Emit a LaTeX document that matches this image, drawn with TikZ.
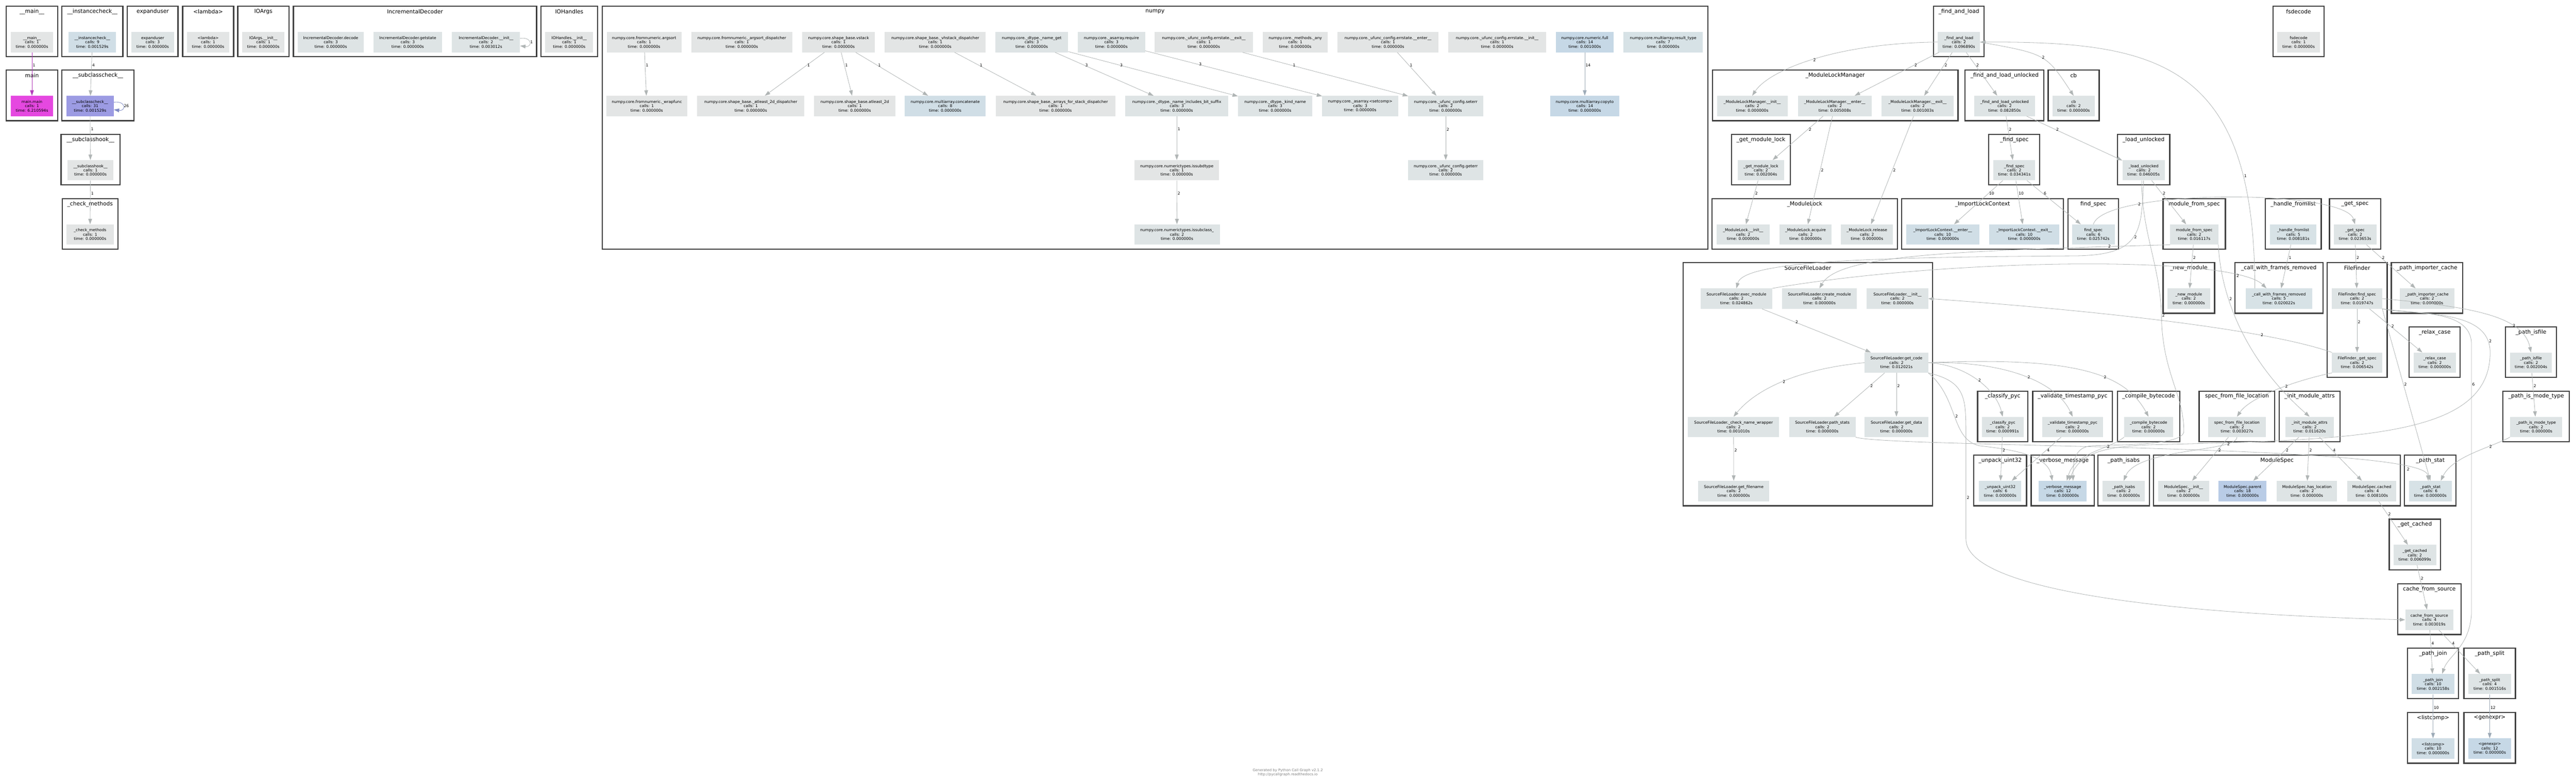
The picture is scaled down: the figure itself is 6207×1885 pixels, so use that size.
\documentclass[tikz,border=0pt]{standalone}
\usepackage{fontspec}
\setmainfont{DejaVu Sans}
\usetikzlibrary{arrows.meta}
\definecolor{cgray}{HTML}{E3E5E5}
\definecolor{cpale}{HTML}{DEE4E5}
\definecolor{clite}{HTML}{D7E2E6}
\definecolor{cblue}{HTML}{D0DEE6}
\definecolor{cdeep}{HTML}{C6D8E6}
\definecolor{cmid}{HTML}{B9CCE6}
\definecolor{cviolet}{HTML}{9C9BE3}
\definecolor{cmagenta}{HTML}{E548E0}
\definecolor{egray}{HTML}{B0B5B5}
\definecolor{eblue}{HTML}{9DAAB7}
\definecolor{eviolet}{HTML}{7F8AC4}
\definecolor{emag}{HTML}{B23DBA}
\newcommand{\fnfont}{\fontsize{9.4}{10.5}\selectfont}
\newcommand{\grfont}{\fontsize{13.2}{15}\selectfont}
\newcommand{\footfont}{\fontsize{8.6}{10}\selectfont}
\newcommand{\ct}[2]{\\calls: #1\\time: #2s}
\newcommand{\callgroup}[6]{%
  \draw[clusterbox] (#2,#4-86.5) rectangle (#3,#5+35.5);
  \node[gtitle] (#1) at ({(#2+#3)/2},#4-73.5) {#6};}
\newcommand{\callsingle}[8]{%
  \callgroup{#1-t}{#2}{#3}{#4}{#4}{#6}
  \node[fn=#7, minimum width=#5] (#1) at ({(#2+#3)/2},#4) {#8};}

\begin{document}
\begin{tikzpicture}[x=1pt, y=-1pt,
	fn/.style={rectangle, fill=#1, align=center, font=\fnfont, minimum height=49, inner sep=1pt},
	clusterbox/.style={draw=black!75, line width=2.8pt},
	gtitle/.style={font=\grfont, inner sep=0pt},
	call/.style={draw=egray, line width=1pt, -{Triangle[length=13pt,width=9pt]}},
	cnt/.style={font=\fnfont, inner sep=1.5pt, anchor=west, pos=.3},
	foot/.style={font=\footfont, text=black!50, align=center}]
	\path[use as bounding box, fill=white] (0,0) rectangle (6207,1885);

	\callsingle{mainfn}{15}{139}{101.5}{102}{\_\_main\_\_}{cgray}{\_\_main\_\_\ct{1}{0.000000}}
	\callsingle{inst}{149}{296}{101.5}{114}{\_\_instancecheck\_\_}{cblue}{\_\_instancecheck\_\_\ct{9}{0.001529}}
	\callsingle{expu}{307}{429}{101.5}{102}{expanduser}{cpale}{expanduser\ct{3}{0.000000}}
	\callsingle{lamb}{440}{563}{101.5}{102}{<lambda>}{cgray}{<lambda>\ct{1}{0.000000}}
	\callsingle{ioargs}{573}{696}{101.5}{102}{IOArgs}{cgray}{IOArgs.\_\_init\_\_\ct{1}{0.000000}}
	\callgroup{incdec}{707}{1293}{101.5}{101.5}{IncrementalDecoder}
	\node[fn=cpale, minimum width=160] (iddec) at (797,101.5) {IncrementalDecoder.decode\ct{3}{0.000000}};
	\node[fn=cpale, minimum width=165] (idget) at (982.5,101.5) {IncrementalDecoder.getstate\ct{3}{0.000000}};
	\node[fn=cpale, minimum width=164] (idinit) at (1171,101.5) {IncrementalDecoder.\_\_init\_\_\ct{2}{0.003012}};
	\callsingle{iohand}{1303}{1440}{101.5}{115}{IOHandles}{cgray}{IOHandles.\_\_init\_\_\ct{1}{0.000000}}
	\callsingle{mainmain}{15}{139}{255.5}{102}{main}{cmagenta}{main.main\ct{1}{6.210594}}
	\callgroup{ssc-t}{149}{323}{255.5}{255.5}{\_\_subclasscheck\_\_}
	\node[fn=cviolet, minimum width=114] (ssc) at (217,255.5) {\_\_subclasscheck\_\_\ct{31}{0.001529}};
	\callsingle{shook}{147}{289}{410.5}{111}{\_\_subclasshook\_\_}{cgray}{\_\_subclasshook\_\_\ct{1}{0.000000}}
	\callsingle{checkm}{150}{284}{565.5}{114}{\_check\_methods}{cgray}{\_check\_methods\ct{1}{0.000000}}

	\callgroup{np}{1451}{4115}{101.5}{565.5}{numpy}
	\node[fn=cgray, minimum width=180] (argsort) at (1552,101.5) {numpy.core.fromnumeric.argsort\ct{1}{0.000000}};
	\node[fn=cgray, minimum width=243] (argdisp) at (1787.5,101.5) {numpy.core.fromnumeric.\_argsort\_dispatcher\ct{1}{0.000000}};
	\node[fn=cgray, minimum width=175] (vstack) at (2020.5,101.5) {numpy.core.shape\_base.vstack\ct{1}{0.000000}};
	\node[fn=cgray, minimum width=243] (vhdisp) at (2253.5,101.5) {numpy.core.shape\_base.\_vhstack\_dispatcher\ct{1}{0.000000}};
	\node[fn=cpale, minimum width=176] (nameget) at (2486,101.5) {numpy.core.\_dtype.\_name\_get\ct{3}{0.000000}};
	\node[fn=cpale, minimum width=162] (require) at (2678,101.5) {numpy.core.\_asarray.require\ct{3}{0.000000}};
	\node[fn=cgray, minimum width=237] (esexit) at (2900.5,101.5) {numpy.core.\_ufunc\_config.errstate.\_\_exit\_\_\ct{1}{0.000000}};
	\node[fn=cgray, minimum width=156] (anyf) at (3121,101.5) {numpy.core.\_methods.\_any\ct{1}{0.000000}};
	\node[fn=cgray, minimum width=243] (esenter) at (3344.5,101.5) {numpy.core.\_ufunc\_config.errstate.\_\_enter\_\_\ct{1}{0.000000}};
	\node[fn=cgray, minimum width=235] (esinit) at (3607.5,101.5) {numpy.core.\_ufunc\_config.errstate.\_\_init\_\_\ct{1}{0.000000}};
	\node[fn=cdeep, minimum width=139] (full) at (3818.5,101.5) {numpy.core.numeric.full\ct{14}{0.001000}};
	\node[fn=clite, minimum width=191] (restype) at (4007.5,101.5) {numpy.core.multiarray.result\_type\ct{7}{0.000000}};
	\node[fn=cgray, minimum width=195] (wrapf) at (1558.5,255.5) {numpy.core.fromnumeric.\_wrapfunc\ct{1}{0.000000}};
	\node[fn=cgray, minimum width=258] (a2ddisp) at (1809,255.5) {numpy.core.shape\_base.\_atleast\_2d\_dispatcher\ct{1}{0.000000}};
	\node[fn=cgray, minimum width=195] (a2d) at (2059.5,255.5) {numpy.core.shape\_base.atleast\_2d\ct{1}{0.000000}};
	\node[fn=cblue, minimum width=195] (concat) at (2277.5,255.5) {numpy.core.multiarray.concatenate\ct{8}{0.000000}};
	\node[fn=cgray, minimum width=287] (arrdisp) at (2543.5,255.5) {numpy.core.shape\_base.\_arrays\_for\_stack\_dispatcher\ct{1}{0.000000}};
	\node[fn=cpale, minimum width=249] (bitsuf) at (2835.5,255.5) {numpy.core.\_dtype.\_name\_includes\_bit\_suffix\ct{3}{0.000000}};
	\node[fn=cpale, minimum width=179] (kindn) at (3072.5,255.5) {numpy.core.\_dtype.\_kind\_name\ct{3}{0.000000}};
	\node[fn=cpale, minimum width=183] (setcomp) at (3277.5,255.5) {numpy.core.\_asarray.<setcomp>\ct{3}{0.000000}};
	\node[fn=cpale, minimum width=181] (seterr) at (3483.5,255.5) {numpy.core.\_ufunc\_config.seterr\ct{2}{0.000000}};
	\node[fn=cdeep, minimum width=167] (copyto) at (3818.5,255.5) {numpy.core.multiarray.copyto\ct{14}{0.000000}};
	\node[fn=cgray, minimum width=203] (issubdt) at (2835.5,410.5) {numpy.core.numerictypes.issubdtype\ct{1}{0.000000}};
	\node[fn=cpale, minimum width=181] (geterr) at (3483.5,410.5) {numpy.core.\_ufunc\_config.geterr\ct{2}{0.000000}};
	\node[fn=cpale, minimum width=206] (issubcl) at (2836,565.5) {numpy.core.numerictypes.issubclass\_\ct{2}{0.000000}};

	\callsingle{fal}{4659}{4781}{101.5}{102}{\_find\_and\_load}{cpale}{\_find\_and\_load\ct{2}{0.096890}}
	\callsingle{fsdec}{5477}{5600}{101.5}{103}{fsdecode}{cgray}{fsdecode\ct{1}{0.000000}}
	\callgroup{mlm}{4126}{4718}{255.5}{255.5}{\_ModuleLockManager}
	\node[fn=cpale, minimum width=170] (mlmi) at (4222,255.5) {\_ModuleLockManager.\_\_init\_\_\ct{2}{0.000000}};
	\node[fn=cpale, minimum width=178] (mlme) at (4421,255.5) {\_ModuleLockManager.\_\_enter\_\_\ct{2}{0.005008}};
	\node[fn=cpale, minimum width=173] (mlmx) at (4620.5,255.5) {\_ModuleLockManager.\_\_exit\_\_\ct{2}{0.001003}};
	\callsingle{falu}{4735}{4925}{255.5}{147}{\_find\_and\_load\_unlocked}{cpale}{\_find\_and\_load\_unlocked\ct{2}{0.082850}}
	\callsingle{cb}{4935}{5058}{255.5}{101}{cb}{cpale}{cb\ct{2}{0.000000}}
	\callsingle{gml}{4172}{4314}{410.5}{112}{\_get\_module\_lock}{cpale}{\_get\_module\_lock\ct{2}{0.002004}}
	\callsingle{fsp}{4792}{4915}{410.5}{101}{\_find\_spec}{cpale}{\_find\_spec\ct{2}{0.034341}}
	\callsingle{lunl}{5102}{5228}{410.5}{102}{\_load\_unlocked}{cpale}{\_load\_unlocked\ct{2}{0.046005}}
	\callgroup{mlk}{4125}{4572}{565.5}{565.5}{\_ModuleLock}
	\node[fn=cpale, minimum width=128] (mli) at (4200,565.5) {\_ModuleLock.\_\_init\_\_\ct{2}{0.000000}};
	\node[fn=cpale, minimum width=125] (mla) at (4350.5,565.5) {\_ModuleLock.acquire\ct{2}{0.000000}};
	\node[fn=cpale, minimum width=125] (mlr) at (4498.5,565.5) {\_ModuleLock.release\ct{2}{0.000000}};
	\callgroup{ilc}{4582}{4972}{565.5}{565.5}{\_ImportLockContext}
	\node[fn=cblue, minimum width=176] (ilce) at (4681,565.5) {\_ImportLockContext.\_\_enter\_\_\ct{10}{0.000000}};
	\node[fn=cblue, minimum width=169] (ilcx) at (4877.5,565.5) {\_ImportLockContext.\_\_exit\_\_\ct{10}{0.000000}};
	\callsingle{findspec}{4983}{5105}{565.5}{103}{find\_spec}{clite}{find\_spec\ct{6}{0.025742}}
	\callsingle{mfs}{5212}{5362}{565.5}{116}{module\_from\_spec}{cpale}{module\_from\_spec\ct{2}{0.016117}}
	\callsingle{hfl}{5458}{5593}{565.5}{112}{\_handle\_fromlist}{clite}{\_handle\_fromlist\ct{5}{0.008181}}
	\callsingle{gsp}{5613}{5736}{565.5}{103}{\_get\_spec}{cpale}{\_get\_spec\ct{2}{0.023653}}

	\callgroup{sfl}{4056}{4656}{720}{1184}{SourceFileLoader}
	\node[fn=cpale, minimum width=172] (sexec) at (4184,720) {SourceFileLoader.exec\_module\ct{2}{0.024862}};
	\node[fn=cpale, minimum width=180] (screate) at (4384,720) {SourceFileLoader.create\_module\ct{2}{0.000000}};
	\node[fn=cpale, minimum width=148] (sinit) at (4572,720) {SourceFileLoader.\_\_init\_\_\ct{2}{0.000000}};
	\node[fn=cpale, minimum width=153] (sgetcode) at (4569.5,874.5) {SourceFileLoader.get\_code\ct{2}{0.012021}};
	\node[fn=cpale, minimum width=220] (scheck) at (4177,1029.5) {SourceFileLoader.\_check\_name\_wrapper\ct{2}{0.001010}};
	\node[fn=cpale, minimum width=160] (spstats) at (4391,1029.5) {SourceFileLoader.path\_stats\ct{2}{0.000000}};
	\node[fn=cpale, minimum width=153] (sgetdata) at (4569.5,1029.5) {SourceFileLoader.get\_data\ct{2}{0.000000}};
	\node[fn=cpale, minimum width=171] (sgetfn) at (4177.5,1184) {SourceFileLoader.get\_filename\ct{2}{0.000000}};
	\callsingle{newm}{5212}{5336}{720}{103}{\_new\_module}{cpale}{\_new\_module\ct{2}{0.000000}}
	\callsingle{cwfr}{5385}{5597}{720}{160}{\_call\_with\_frames\_removed}{clite}{\_call\_with\_frames\_removed\ct{5}{0.020022}}
	\callgroup{ff}{5607}{5752}{720}{874.5}{FileFinder}
	\node[fn=cpale, minimum width=121] (ffind) at (5679.5,720) {FileFinder.find\_spec\ct{2}{0.019747}};
	\node[fn=cpale, minimum width=121] (fget) at (5679.5,874.5) {FileFinder.\_get\_spec\ct{2}{0.006542}};
	\callsingle{pic}{5762}{5934}{720}{132}{\_path\_importer\_cache}{cpale}{\_path\_importer\_cache\ct{2}{0.000000}}
	\callsingle{relax}{5805}{5928}{874.5}{102}{\_relax\_case}{cpale}{\_relax\_case\ct{2}{0.000000}}
	\callsingle{pisfile}{6037}{6160}{874.5}{101}{\_path\_isfile}{cpale}{\_path\_isfile\ct{2}{0.002004}}
	\callsingle{classify}{4765}{4886}{1029.5}{101}{\_classify\_pyc}{cpale}{\_classify\_pyc\ct{2}{0.000991}}
	\callsingle{vts}{4898}{5090}{1029.5}{146}{\_validate\_timestamp\_pyc}{cpale}{\_validate\_timestamp\_pyc\ct{2}{0.000000}}
	\callsingle{comp}{5102}{5252}{1029.5}{118}{\_compile\_bytecode}{cpale}{\_compile\_bytecode\ct{2}{0.000000}}
	\callsingle{sffl}{5299}{5481}{1029.5}{139}{spec\_from\_file\_location}{cpale}{spec\_from\_file\_location\ct{2}{0.003027}}
	\callsingle{ima}{5492}{5638}{1029.5}{116}{\_init\_module\_attrs}{cpale}{\_init\_module\_attrs\ct{2}{0.011620}}
	\callsingle{pimt}{6031}{6191}{1029.5}{126}{\_path\_is\_mode\_type}{cpale}{\_path\_is\_mode\_type\ct{2}{0.000000}}
	\callsingle{unpack}{4756}{4883}{1184}{102}{\_unpack\_uint32}{clite}{\_unpack\_uint32\ct{6}{0.000000}}
	\callsingle{verb}{4894}{5046}{1184}{116}{\_verbose\_message}{cdeep}{\_verbose\_message\ct{12}{0.000000}}
	\callsingle{pisabs}{5055}{5179}{1184}{103}{\_path\_isabs}{cpale}{\_path\_isabs\ct{2}{0.000000}}
	\callgroup{mspec}{5189}{5784}{1184}{1184}{ModuleSpec}
	\node[fn=cpale, minimum width=123] (msi) at (5261.5,1184) {ModuleSpec.\_\_init\_\_\ct{2}{0.000000}};
	\node[fn=cmid, minimum width=115] (msp) at (5403.5,1184) {ModuleSpec.parent\ct{18}{0.000000}};
	\node[fn=cpale, minimum width=145] (msh) at (5558.5,1184) {ModuleSpec.has\_location\ct{2}{0.000000}};
	\node[fn=cpale, minimum width=118] (msc) at (5715,1184) {ModuleSpec.cached\ct{4}{0.008100}};
	\callsingle{pstat}{5794}{5918}{1184}{103}{\_path\_stat}{clite}{\_path\_stat\ct{6}{0.000000}}
	\callsingle{gcached}{5757}{5880}{1338.5}{103}{\_get\_cached}{cpale}{\_get\_cached\ct{2}{0.006099}}
	\callsingle{cfs}{5777}{5930}{1494.5}{116}{cache\_from\_source}{cpale}{cache\_from\_source\ct{4}{0.003019}}
	\callsingle{pjoin}{5801}{5924}{1649.5}{103}{\_path\_join}{cblue}{\_path\_join\ct{10}{0.002158}}
	\callsingle{psplit}{5937}{6061}{1649.5}{103}{\_path\_split}{cpale}{\_path\_split\ct{4}{0.001516}}
	\callsingle{listc}{5801}{5924}{1805}{103}{<listcomp>}{cblue}{<listcomp>\ct{10}{0.000000}}
	\callsingle{genx}{5937}{6061}{1805}{103}{<genexpr>}{cdeep}{<genexpr>\ct{12}{0.000000}}

	\node[foot] (credit) at (3103,1863) {Generated by Python Call Graph v2.1.2\\http://pycallgraph.readthedocs.io};

	\draw[call, draw=emag] (mainfn) -- (mainmain) node[cnt] {1};
	\draw[call] (inst) -- (ssc) node[cnt] {4};
	\draw[call, draw=eviolet] ([yshift=9pt]ssc.east) .. controls +(30,-4) and +(30,4) .. ([yshift=-9pt]ssc.east) node[cnt, pos=.5] {26};
	\draw[call] (ssc) -- (shook) node[cnt] {1};
	\draw[call] (shook) -- (checkm) node[cnt] {1};
	\draw[call] ([yshift=9pt]idinit.east) .. controls +(30,-4) and +(30,4) .. ([yshift=-9pt]idinit.east) node[cnt, pos=.5] {1};

	\draw[call] (argsort) -- (wrapf) node[cnt] {1};
	\draw[call] (vstack) -- (a2ddisp) node[cnt] {1};
	\draw[call] (vstack) -- (a2d) node[cnt] {1};
	\draw[call] (vstack) -- (concat) node[cnt] {1};
	\draw[call] (vhdisp) -- (arrdisp) node[cnt] {1};
	\draw[call] (nameget) -- (bitsuf) node[cnt] {3};
	\draw[call] (nameget) -- (kindn) node[cnt] {3};
	\draw[call] (require) -- (setcomp) node[cnt] {3};
	\draw[call] (esexit) -- (seterr) node[cnt] {1};
	\draw[call] (esenter) -- (seterr) node[cnt] {1};
	\draw[call] (bitsuf) -- (issubdt) node[cnt] {1};
	\draw[call] (seterr) -- (geterr) node[cnt] {2};
	\draw[call] (issubdt) -- (issubcl) node[cnt] {2};
	\draw[call, draw=eblue] (full) -- (copyto) node[cnt] {14};

	\draw[call] (fal.west) .. controls (4420,104) and (4262,170) .. (mlmi.north) node[cnt, pos=.5] {2};
	\draw[call] (fal) -- (mlme) node[cnt] {2};
	\draw[call] (fal) -- (mlmx) node[cnt] {2};
	\draw[call] (fal) -- (falu) node[cnt] {2};
	\draw[call] (fal.east) .. controls (4930,130) .. (cb.north) node[cnt, pos=.5] {2};
	\draw[call] (mlme) -- (gml) node[cnt] {2};
	\draw[call] (mlme) -- (mla) node[cnt, pos=.5] {2};
	\draw[call] (mlmx) -- (mlr) node[cnt, pos=.5] {2};
	\draw[call] (gml) -- (mli) node[cnt] {2};
	\draw[call] (falu) -- (fsp) node[cnt] {2};
	\draw[call] (falu) -- (lunl) node[cnt] {2};
	\draw[call] (fsp) -- (ilce) node[cnt] {10};
	\draw[call] (fsp) -- (ilcx) node[cnt] {10};
	\draw[call] (fsp) -- (findspec) node[cnt] {6};
	\draw[call] (findspec.north) .. controls (5070,455) and (5650,455) .. (gsp.north) node[cnt, pos=.25] {2};
	\draw[call] (lunl) -- (mfs) node[cnt] {2};
	\draw[call] (lunl.south) .. controls (5160,560) and (5160,615) .. (5000,617) node[cnt, pos=.5] {2} .. controls (4500,620) and (4200,630) .. (sexec.north);
	\draw[call] (lunl.-100) .. controls (5160,560) and (5205,640) .. (5208,760) node[cnt, pos=1] {2} .. controls (5210,900) and (5262,950) .. (5262,1040) .. controls (5262,1075) and (5100,1072) .. (5040,1075) .. controls (5000,1078) and (4995,1110) .. ([xshift=25pt]verb.north);
	\draw[call] (mfs) -- (newm) node[cnt] {2};
	\draw[call] (mfs.south west) .. controls (4700,605) and (4430,615) .. (screate.north) node[cnt, pos=.1] {2};
	\draw[call] (mfs.south east) .. controls (5350,700) and (5400,860) .. (ima.north) node[cnt, pos=.35] {2};
	\draw[call] (hfl) -- (cwfr) node[cnt] {1};
	\draw[call] (gsp) -- (ffind) node[cnt] {2};
	\draw[call] (gsp) -- (pic) node[cnt] {2};
	\draw[call] ([xshift=-58pt]cwfr.north) .. controls (5433,150) and (5200,100) .. (fal.east) node[cnt, pos=.2] {1};

	\draw[call] (sexec) -- (sgetcode) node[cnt] {2};
	\draw[call] (sexec.north east) .. controls (4700,622) and (5380,615) .. ([xshift=-30pt]cwfr.north) node[cnt, pos=.85] {2};
	\draw[call] (sgetcode.west) .. controls (4330,890) and (4230,940) .. (scheck.north) node[cnt, pos=.5] {2};
	\draw[call] (sgetcode) -- (spstats) node[cnt] {2};
	\draw[call] (sgetcode) -- (sgetdata) node[cnt] {2};
	\draw[call] (scheck) -- (sgetfn) node[cnt] {2};
	\draw[call] (sgetcode.east) .. controls (4740,880) and (4810,940) .. (classify.north) node[cnt, pos=.5] {2};
	\draw[call] (sgetcode.east) .. controls (4850,870) and (4960,930) .. (vts.north) node[cnt, pos=.5] {2};
	\draw[call] (sgetcode.east) .. controls (5000,860) and (5120,900) .. (comp.north) node[cnt, pos=.6] {2};
	\draw[call] (sgetcode.south east) .. controls (4737,920) and (4737,960) .. (4737,1050) -- (4737,1300) node[cnt, pos=.6] {2} .. controls (4737,1420) and (5200,1480) .. (cfs.west);
	\draw[call] (sgetcode.south east) .. controls (4720,960) and (4700,1060) .. (4770,1075) node[cnt, pos=.5] {2} .. controls (4860,1085) and (4935,1100) .. ([xshift=-25pt]verb.north);
	\draw[call] (classify) -- (unpack) node[cnt] {2};
	\draw[call] (vts) -- (unpack) node[cnt] {4};
	\draw[call] (spstats.south east) .. controls (4550,1080) and (5845,1070) .. ([xshift=-5pt]pstat.north) node[cnt, pos=.88] {2};
	\draw[call] (comp.south west) .. controls (5080,1085) and (5000,1090) .. ([xshift=10pt]verb.north) node[cnt] {2};

	\draw[call] (ffind) -- (fget) node[cnt] {2};
	\draw[call] (ffind) -- (relax) node[cnt, pos=.4] {2};
	\draw[call] (ffind.east) .. controls (5950,740) and (6080,760) .. (pisfile.north) node[cnt, pos=.7] {2};
	\draw[call] (ffind.south east) -- (pstat.north) node[cnt, pos=.44] {2};
	\draw[call] (ffind.south east) .. controls (5800,760) and (5955,740) .. (5955,830) -- (5955,1480) node[cnt, pos=.15] {6} .. controls (5950,1560) and (5900,1580) .. ([xshift=-30pt]pjoin.north east);
	\draw[call] (ffind.south east) .. controls (5850,760) and (6000,750) .. (6000,850) node[cnt, pos=.9] {2} .. controls (6000,1050) and (5700,1060) .. (5200,1072) .. controls (5050,1075) and (5010,1100) .. ([xshift=15pt]verb.north);
	\draw[call] (fget.north west) .. controls (5450,790) and (5000,745) .. (sinit.east) node[cnt, pos=.25] {2};
	\draw[call] (fget.south west) .. controls (5520,920) and (5420,960) .. (sffl.north) node[cnt, pos=.4] {2};
	\draw[call] (pisfile) -- (pimt) node[cnt] {2};
	\draw[call] (pimt.south west) .. controls (6000,1080) and (5910,1100) .. ([xshift=25pt]pstat.north) node[cnt, pos=.3] {2};
	\draw[call] (sffl) -- (msi) node[cnt] {2};
	\draw[call] (sffl.south) .. controls (5390,1090) and (5150,1080) .. (pisabs.north) node[cnt, pos=.2] {2};
	\draw[call] (ima) -- (msp) node[cnt] {2};
	\draw[call] (ima) -- (msh) node[cnt] {2};
	\draw[call] (ima) -- (msc) node[cnt] {4};
	\draw[call] (msc) -- (gcached) node[cnt] {2};
	\draw[call] (gcached) -- (cfs) node[cnt] {2};
	\draw[call] (cfs) -- (pjoin) node[cnt] {4};
	\draw[call] (cfs) -- (psplit) node[cnt] {4};
	\draw[call, draw=eblue] (pjoin) -- (listc) node[cnt] {10};
	\draw[call, draw=eblue] (psplit) -- (genx) node[cnt] {12};
\end{tikzpicture}
\end{document}
